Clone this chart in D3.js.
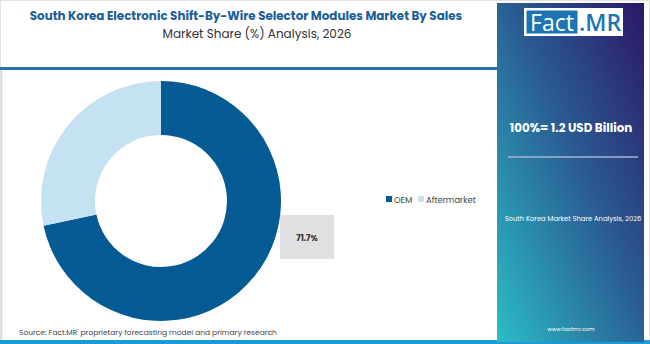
<!DOCTYPE html>
<html><head><meta charset="utf-8">
<script src="https://cdn.jsdelivr.net/npm/d3@7"></script>
<style>body{margin:0;background:#fff}svg{display:block}</style>
</head><body>
<script>
const categories = ["OEM", "Aftermarket"];
const shares = [71.7, 28.3];
const labelText = ["71.7%"];
const titleText = "South Korea Electronic Shift-By-Wire Selector Modules Market By Sales";
const subtitleText = "Market Share (%) Analysis, 2026";
const totalText = "100%= 1.2 USD Billion";
const panelSub = "South Korea Market Share Analysis, 2026";
const sourceText = "Source: Fact.MR' proprietary forecasting model and primary research";

const W = 650, H = 344;
const svg = d3.select("body").append("svg").attr("width", W).attr("height", H);
const font = "Poppins, 'Open Sans', 'Noto Sans', sans-serif";

// frame
svg.append("rect").attr("x",0.5).attr("y",0.5).attr("width",W-1).attr("height",H-1).attr("fill","#fff").attr("stroke","#e2e2e2");
svg.append("line").attr("x1",1.5).attr("x2",1.5).attr("y1",70).attr("y2",340).attr("stroke","#d8d8d8").attr("stroke-width",1.5);

// header
svg.append("text").attr("x",246).attr("y",20).attr("text-anchor","middle")
  .attr("font-family",font).attr("font-weight",700).attr("font-size",11.9).attr("fill","#1b5e97").text(titleText);
svg.append("text").attr("x",257).attr("y",37.5).attr("text-anchor","middle")
  .attr("font-family",font).attr("font-size",12).attr("fill","#333").text(subtitleText);
svg.append("rect").attr("x",0).attr("y",67).attr("width",498).attr("height",3).attr("fill","#2a6fae");

// bottom band
svg.append("rect").attr("x",0).attr("y",340).attr("width",W).attr("height",4).attr("fill","#1b9ad8");
svg.append("text").attr("x",19).attr("y",335).attr("font-family",font).attr("font-size",7.5).attr("fill","#444").text(sourceText);

// right panel
const defs = svg.append("defs");
const g = defs.append("linearGradient").attr("id","pg").attr("x1","100%").attr("y1","0%").attr("x2","0%").attr("y2","100%");
g.append("stop").attr("offset","0%").attr("stop-color","#2c1767");
g.append("stop").attr("offset","45%").attr("stop-color","#2a5a92");
g.append("stop").attr("offset","100%").attr("stop-color","#2bbcc6");
svg.append("rect").attr("x",497).attr("y",3).attr("width",147).attr("height",339).attr("fill","url(#pg)");

// logo
svg.append("rect").attr("x",524).attr("y",8).attr("width",99).attr("height",28).attr("fill","#fff");
svg.append("rect").attr("x",526.5).attr("y",10.5).attr("width",51).attr("height",23).attr("fill","#1c74b2");
svg.append("text").attr("x",552).attr("y",31).attr("text-anchor","middle").attr("font-family","'Open Sans', sans-serif")
  .attr("font-size",23).attr("fill","#fff").text("Fact");
svg.append("text").attr("x",600).attr("y",31).attr("text-anchor","middle").attr("font-family","'Open Sans', sans-serif")
  .attr("font-weight",600).attr("font-size",23).attr("fill","#1c74b2").text(".MR");

svg.append("text").attr("x",571).attr("y",132).attr("text-anchor","middle").attr("font-family",font)
  .attr("font-weight",700).attr("font-size",11.9).attr("fill","#fff").text(totalText);
svg.append("line").attr("x1",508).attr("x2",638).attr("y1",157).attr("y2",157).attr("stroke","#a9b4cf").attr("stroke-width",1.5);
svg.append("text").attr("x",573).attr("y",220.5).attr("text-anchor","middle").attr("font-family",font)
  .attr("font-size",6.8).attr("fill","#fff").text(panelSub);
svg.append("text").attr("x",571).attr("y",331).attr("text-anchor","middle").attr("font-family",font)
  .attr("font-size",5.6).attr("fill","#fff").text("www.factmr.com");

// donut
const color = d3.scaleOrdinal().domain(categories).range(["#045a93","#c5e2f3"]);
const pie = d3.pie().sort(null).value(d => d.v);
const data = categories.map((c,i)=>({c, v: shares[i]}));
const arc = d3.arc().innerRadius(66).outerRadius(120);
const cg = svg.append("g").attr("transform","translate(161,201)");
cg.selectAll("path").data(pie(data)).join("path").attr("d",arc).attr("fill",d=>color(d.data.c));

// label box
svg.append("rect").attr("x",280).attr("y",215).attr("width",54).attr("height",44).attr("fill","#e0e0e2");
svg.append("text").attr("x",307).attr("y",240.5).attr("text-anchor","middle").attr("font-family",font)
  .attr("font-weight",700).attr("font-size",8.3).attr("fill","#333").text(labelText[0]);

// legend
const lg = svg.append("g").attr("font-family",font).attr("font-size",8.4).attr("fill","#444");
const legX = [386, 418];
categories.forEach((c,i)=>{
  lg.append("rect").attr("x",legX[i]).attr("y",196).attr("width",6).attr("height",6).attr("fill",color(c));
  lg.append("text").attr("x",legX[i]+8).attr("y",202.5).attr("fill","#444").text(c);
});
</script>
</body></html>
